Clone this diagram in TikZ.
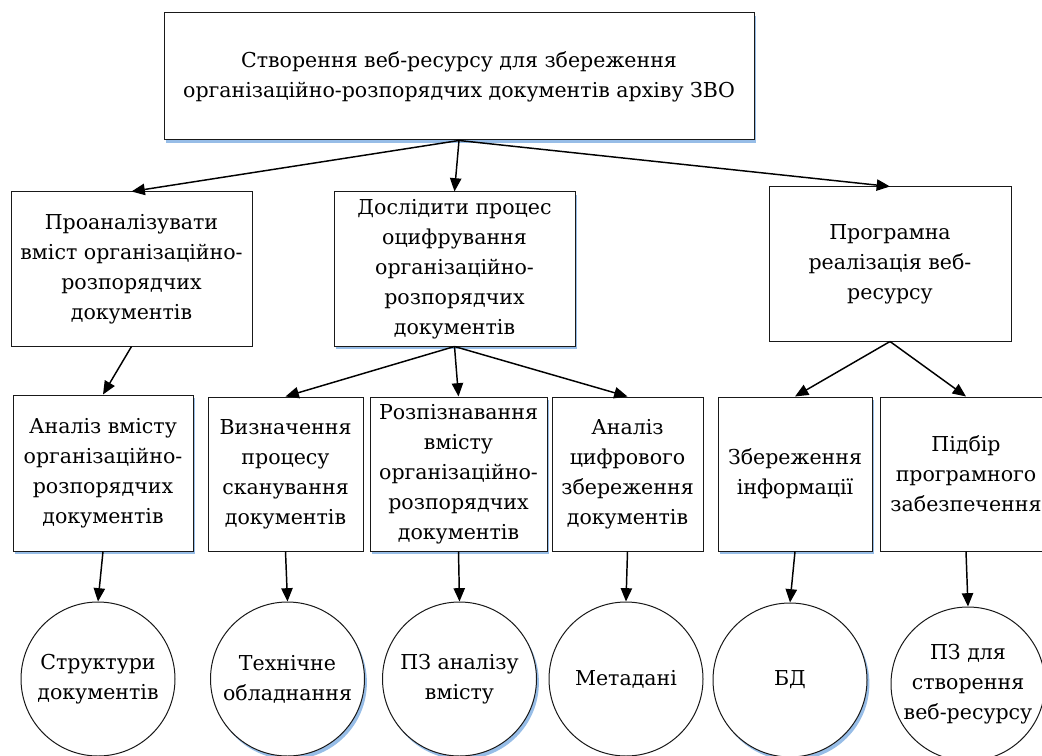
\documentclass[tikz,border=0pt]{standalone}
\usepackage{fontspec}
\setmainfont{DejaVu Serif}
\usetikzlibrary{arrows.meta,shadows}
\definecolor{shadowblue}{RGB}{140,182,228}
\begin{document}
\begin{tikzpicture}[x=0.75pt,y=-0.75pt,
  every node/.style={font=\rmfamily\fontsize{15.4}{22.5}\selectfont, align=center, inner sep=0pt},
  box/.style={draw=black!90, line width=0.75pt, fill=white, rectangle},
  ball/.style={draw=black!90, line width=0.75pt, fill=white, circle, minimum size=115.5pt},
  shad/.style={drop shadow={shadow xshift=1.8pt, shadow yshift=-2.6pt, fill=shadowblue, opacity=0.9}},
  arr/.style={-{Triangle[length=10pt,width=8.5pt]}, line width=1.1pt}]
\useasboundingbox (0,0) rectangle (1042,756);
% top level
\node[box,shad,minimum width=442.5pt,minimum height=95.25pt] (root) at (459,76.5)
  {Створення веб-ресурсу для збереження\\організаційно-розпорядчих документів архіву ЗВО};
% second level
\node[box,minimum width=180.75pt,minimum height=115.5pt] (l1) at (131.5,269)
  {Проаналізувати\\вміст організаційно-\\розпорядчих\\документів};
\node[box,shad,minimum width=180.75pt,minimum height=115.5pt] (m1) at (454.5,269)
  {Дослідити процес\\оцифрування\\організаційно-\\розпорядчих\\документів};
\node[box,minimum width=181.5pt,minimum height=115.5pt] (r1) at (890,264)
  {Програмна\\реалізація веб-\\ресурсу};
% third level
\node[box,shad,minimum width=135pt,minimum height=117pt] (l2) at (103,473)
  {Аналіз вмісту\\організаційно-\\розпорядчих\\документів};
\node[box,minimum width=116.25pt,minimum height=115.5pt] (l2b) at (285.5,474)
  {Визначення\\процесу\\сканування\\документів};
\node[box,shad,minimum width=132.75pt,minimum height=115.5pt] (m2b) at (458.5,474)
  {Розпізнавання\\вмісту\\організаційно-\\розпорядчих\\документів};
\node[box,minimum width=113.25pt,minimum height=115.5pt] (m2c) at (627.5,474)
  {Аналіз\\цифрового\\збереження\\документів};
\node[box,shad,minimum width=115.5pt,minimum height=115.5pt] (r2a) at (795,474)
  {Збереження\\інформації};
\node[box,minimum width=128pt,minimum height=115.5pt] (r2b) at (966,474)
  {Підбір\\програмного\\забезпечення};
% circles
\node[ball] (c1) at (98,679) {Структури\\документів};
\node[ball,shad] (c2) at (287.5,679) {Технічне\\обладнання};
\node[ball,shad] (c3) at (459.5,679) {ПЗ аналізу\\вмісту};
\node[ball] (c4) at (626,679) {Метадані};
\node[ball,shad] (c5) at (790,680) {БД};
\node[ball] (c6) at (968,684) {ПЗ для\\створення\\веб-ресурсу};
% connectors
\draw[arr] (root.south) -- (l1.north);
\draw[arr] (root.south) -- (m1.north);
\draw[arr] (root.south) -- (r1.north);
\draw[arr] (l1.south) -- (l2.north);
\draw[arr] (m1.south) -- (l2b.north);
\draw[arr] (m1.south) -- (m2b.north);
\draw[arr] (m1.south) -- (m2c.north);
\draw[arr] (r1.south) -- (r2a.north);
\draw[arr] (r1.south) -- (r2b.north);
\draw[arr] (l2.south) -- (c1.north);
\draw[arr] (l2b.south) -- (c2.north);
\draw[arr] (m2b.south) -- (c3.north);
\draw[arr] (m2c.south) -- (c4.north);
\draw[arr] (r2a.south) -- (c5.north);
\draw[arr] (r2b.south) -- (c6.north);
\end{tikzpicture}
\end{document}
